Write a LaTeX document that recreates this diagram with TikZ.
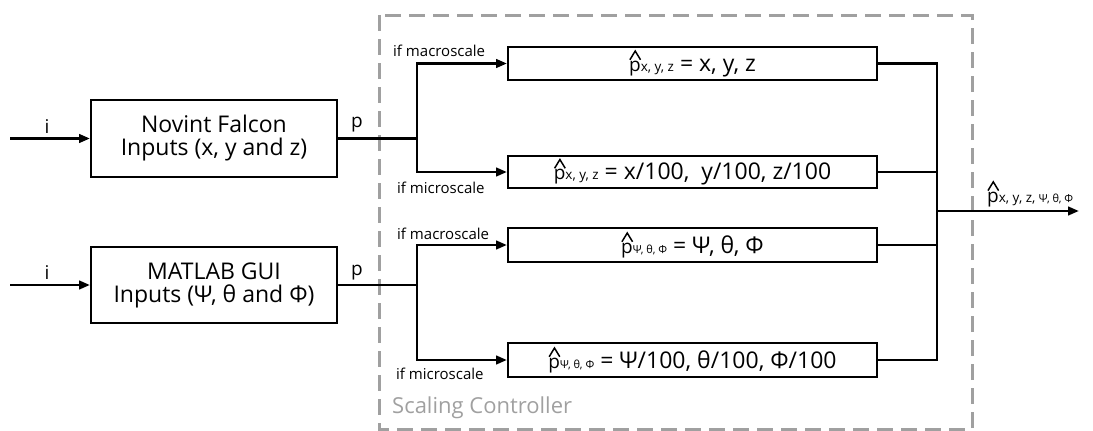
\documentclass[tikz,border=0pt]{standalone}
\usepackage{fontspec}
\setmainfont{Open Sans}
\usetikzlibrary{arrows.meta}
\newcommand{\fsz}[1]{\fontsize{#1}{#1}\selectfont}
% p with a tall hat
\newcommand{\ph}{{\fsz{19}\makebox[0pt][l]{\tikz[x=1em,y=1em,baseline=0pt,line width=1.5pt,line join=miter,line cap=butt]\draw (0.04,0.6) -- (0.32,1.06) -- (0.6,0.6);}p}}
\newcommand{\sbs}[1]{{\fsz{13.5}#1}}
\newcommand{\sbg}[1]{{\fsz{11}#1}}
\definecolor{dgray}{RGB}{160,160,160}
\tikzset{
  blk/.style={draw, line width=2pt, inner sep=0pt, align=center},
  conn/.style={line width=2.8pt},
  arr/.style={conn, -{Triangle[length=11pt,width=8.5pt]}},
  dashbox/.style={draw=dgray, line width=3pt, dash pattern=on 16pt off 8pt},
  lbl/.style={inner sep=0pt, font=\fsz{15}},
  sym/.style={inner sep=0pt, font=\fsz{19}},
  mtxt/.style={font=\fsz{23}},
}
\begin{document}
\begin{tikzpicture}[x=1pt,y=-1pt]
\useasboundingbox (0,0) rectangle (1093,431);
% dashed controller box
\draw[dashbox] (379,15) rectangle (972,429);
\node[inner sep=0pt, anchor=west, text=dgray, font=\fsz{22}] (sc) at (392,408) {Scaling Controller};
% left boxes
\node[blk, mtxt, minimum width=246pt, minimum height=77pt] (nf) at (214,138.5)
  {\fontsize{23}{32}\selectfont Novint Falcon\\Inputs (x, y and z)};
\node[blk, mtxt, minimum width=246pt, minimum height=76pt] (mg) at (214,285)
  {\fontsize{23}{32}\selectfont MATLAB GUI\\Inputs (Ψ, θ and Φ)};
% right boxes
\node[blk, mtxt, minimum width=369pt, minimum height=33pt] (r1) at (692.5,63.5)
  {\ph\sbs{x, y, z} = x, y, z};
\node[blk, mtxt, minimum width=369pt, minimum height=32pt] (r2) at (692.5,172)
  {\ph\sbs{x, y, z} = x/100,\ \ y/100, z/100};
\node[blk, mtxt, minimum width=369pt, minimum height=34pt] (r3) at (692.5,245)
  {\ph\sbg{Ψ, θ, Φ} = Ψ, θ, Φ};
\node[blk, mtxt, minimum width=369pt, minimum height=34pt] (r4) at (692.5,360)
  {\ph\sbg{Ψ, θ, Φ} = Ψ/100, θ/100, Φ/100};
% coordinates
\coordinate (in1) at (10,138.5);
\coordinate (in2) at (10,285);
\coordinate (b1) at (417,138.5);
\coordinate (b2) at (417,285);
\coordinate (m) at (937,211);
\coordinate (out) at (1079,211);
% inputs
\draw[arr] (in1) -- (nf.west);
\draw[arr] (in2) -- (mg.west);
\node[sym] (i1) at (47,127) {i};
\node[sym] (i2) at (47,273) {i};
% outputs to branches
\draw[conn] (nf.east) -- (b1);
\draw[conn] (mg.east) -- (b2);
\node[sym] (p1) at (357,125) {p};
\node[sym] (p2) at (357,273) {p};
\draw[arr] (b1) |- (r1.west);
\draw[arr] (b1) |- (r2.west);
\draw[arr] (b2) |- (r3.west);
\draw[arr] (b2) |- (r4.west);
% labels
\node[lbl, anchor=west] (l1) at (393,51) {if macroscale};
\node[lbl, anchor=west] (l2) at (397,188) {if microscale};
\node[lbl, anchor=west] (l3) at (397,234) {if macroscale};
\node[lbl, anchor=west] (l4) at (396,374) {if microscale};
% merge
\draw[conn] (r1.east) -| (m);
\draw[conn] (r2.east) -| (m);
\draw[conn] (r3.east) -| (m);
\draw[conn] (r4.east) -| (m);
\draw[arr] (m) -- (out);
\node[inner sep=0pt, anchor=base west] (ol) at (987,202) {\ph\sbs{x, y, z, }\sbg{Ψ, θ, Φ}};
\end{tikzpicture}
\end{document}
